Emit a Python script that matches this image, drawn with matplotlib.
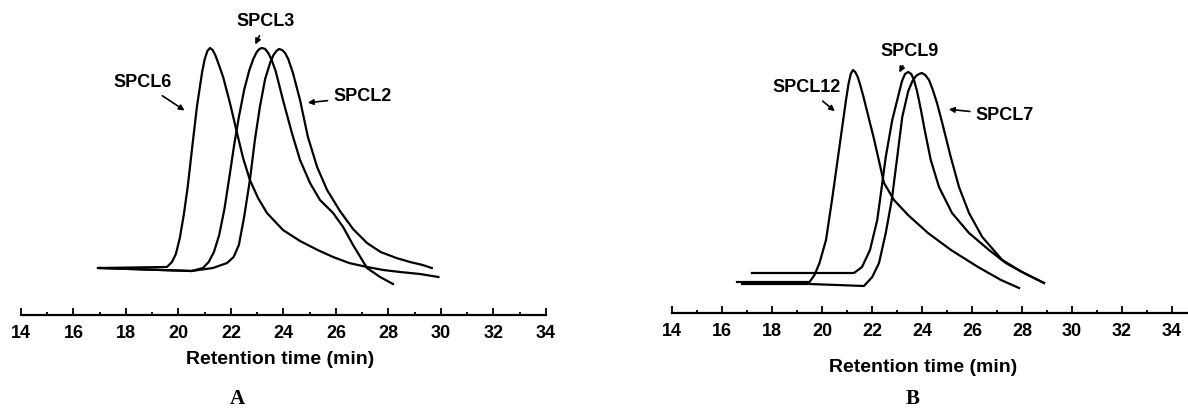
import matplotlib
matplotlib.use("Agg")
import matplotlib.pyplot as plt

# ---- panel A: retention time (min) and detector response (arbitrary units)
spcl6_t = [16.93, 19.56, 19.75, 19.9, 20.05, 20.2, 20.35, 20.51, 20.7, 20.9, 21.0, 21.1, 21.2,
           21.3, 21.4, 21.5, 21.7, 21.96, 22.23, 22.46, 22.72, 23.03, 23.37, 23.98, 24.63,
           25.3, 25.89, 26.5, 27.18, 27.8, 28.44, 29.2, 29.9]
spcl6_h = [47, 48, 53, 61, 77, 100, 128, 165, 208, 243, 256, 264, 267,
           265, 260, 253, 238, 212, 182, 157, 135, 117, 102, 85, 74,
           65, 58, 52, 48, 45, 43, 41, 38]

spcl3_t = [17.0, 20.5, 20.93, 21.15, 21.35, 21.55, 21.75, 21.95, 22.12, 22.3, 22.5, 22.7,
           22.85, 22.98, 23.08, 23.18, 23.3, 23.42, 23.55, 23.7, 23.98, 24.32, 24.63, 25.01,
           25.39, 25.89, 26.27, 26.65, 27.18, 27.68, 28.17]
spcl3_h = [47, 44, 47, 53, 63, 80, 106, 140, 170, 198, 225, 245,
           256, 263, 266, 267, 266, 262, 255, 244, 215, 182, 155, 132,
           115, 102, 88, 70, 47, 38, 31]

spcl2_t = [17.0, 20.5, 21.31, 21.85, 22.1, 22.3, 22.5, 22.72, 22.91, 23.1, 23.3, 23.5, 23.62,
           23.73, 23.83, 23.95, 24.06, 24.18, 24.36, 24.63, 24.93, 25.28, 25.66, 26.15,
           26.65, 27.18, 27.7, 28.3, 28.82, 29.3, 29.65]
spcl2_h = [47, 44, 47, 52, 58, 70, 98, 135, 175, 208, 236, 253, 260,
           264, 266, 265, 262, 256, 242, 215, 178, 148, 125, 104,
           86, 72, 63, 57, 53, 50, 47]

# ---- panel B
spcl12_t = [16.6, 19.5, 19.7, 19.9, 20.16, 20.4, 20.68, 20.96, 21.06, 21.15, 21.24, 21.33,
            21.43, 21.53, 21.65, 21.8, 22.08, 22.48, 22.88, 23.44, 24.24, 25.16, 26.24,
            27.16, 27.88]
spcl12_h = [31, 31, 38, 50, 73, 113, 163, 213, 229, 239, 243, 241,
            236, 228, 217, 202, 174, 130, 113, 98, 80, 63, 46,
            33, 25]

spcl9_t = [17.2, 21.28, 21.6, 21.92, 22.21, 22.39, 22.55, 22.81, 23.08, 23.2, 23.32, 23.45,
           23.57, 23.68, 23.8, 23.95, 24.1, 24.35, 24.68, 25.2, 25.88, 26.68, 27.35, 28.0,
           28.88]
spcl9_h = [40, 40, 46, 63, 93, 126, 156, 193, 220, 232, 239, 241,
           239, 233, 222, 204, 184, 153, 126, 100, 80, 63, 50, 41,
           30]

spcl7_t = [16.8, 19.5, 21.68, 22.01, 22.28, 22.55, 22.79, 23.01, 23.21, 23.45, 23.62, 23.76,
           23.88, 24.0, 24.13, 24.28, 24.42, 24.6, 24.81, 25.15, 25.48, 25.88, 26.41, 27.21,
           28.0, 28.88]
spcl7_h = [29, 29, 27, 36, 50, 80, 113, 156, 196, 222, 232, 237,
           239, 240, 238, 233, 224, 210, 190, 156, 126, 100, 76, 53,
           41, 30]

ticks = [14, 16, 18, 20, 22, 24, 26, 28, 30, 32, 34]
tick_labels = ["14", "16", "18", "20", "22", "24", "26", "28", "30", "32", "34"]

W, H = 1188, 409


def style_axis(ax, xmax):
    ax.set_xlim(14, xmax)
    ax.set_ylim(0, 300)
    for s in ["left", "right", "top"]:
        ax.spines[s].set_visible(False)
    ax.spines["bottom"].set_linewidth(1.6)
    ax.set_yticks([])
    ax.set_xticks(ticks)
    ax.set_xticklabels(tick_labels, fontsize=13, fontweight="bold")
    ax.set_xticks([15, 17, 19, 21, 23, 25, 27, 29, 31, 33], minor=True)
    ax.tick_params(axis="x", which="major", direction="in", length=5, width=1.3, pad=7)
    ax.tick_params(axis="x", which="minor", direction="in", length=2.5, width=1.3)
    ax.patch.set_alpha(0)


def main():
    plt.rcParams["font.family"] = ["Liberation Sans", "DejaVu Sans"]
    fig = plt.figure(figsize=(W / 100, H / 100), dpi=100)

    # panel A
    axA = fig.add_axes([21 / W, (H - 315) / H, 525 / W, 300 / H])
    style_axis(axA, 34)
    for t, h in [(spcl6_t, spcl6_h), (spcl3_t, spcl3_h), (spcl2_t, spcl2_h)]:
        axA.plot(t, h, color="black", lw=1.6, solid_joinstyle="round")
    arrow = dict(arrowstyle="-|>", color="black", lw=1.2, mutation_scale=8)
    axA.annotate("SPCL6", xy=(20.32, 203), xytext=(18.65, 232), fontsize=13,
                 fontweight="bold", ha="center", va="center", arrowprops=arrow)
    axA.annotate("SPCL3", xy=(22.88, 268), xytext=(23.33, 293), fontsize=13,
                 fontweight="bold", ha="center", va="center", arrowprops=arrow)
    axA.annotate("SPCL2", xy=(24.82, 212), xytext=(27.0, 218), fontsize=13,
                 fontweight="bold", ha="center", va="center", arrowprops=arrow)

    # panel B
    axB = fig.add_axes([672 / W, (H - 313) / H, 515 / W, 300 / H])
    style_axis(axB, 34.6)
    for t, h in [(spcl12_t, spcl12_h), (spcl9_t, spcl9_h), (spcl7_t, spcl7_h)]:
        axB.plot(t, h, color="black", lw=1.6, solid_joinstyle="round")
    axB.annotate("SPCL12", xy=(20.6, 200), xytext=(19.4, 225), fontsize=13,
                 fontweight="bold", ha="center", va="center", arrowprops=arrow)
    axB.annotate("SPCL9", xy=(23.04, 238), xytext=(23.52, 261), fontsize=13,
                 fontweight="bold", ha="center", va="center", arrowprops=arrow)
    axB.annotate("SPCL7", xy=(24.96, 204), xytext=(27.3, 198), fontsize=13,
                 fontweight="bold", ha="center", va="center", arrowprops=arrow)

    # axis titles and panel letters
    fig.text(280 / W, 1 - 360 / H, "Retention time (min)", fontsize=14,
             fontweight="bold", ha="center", va="center")
    fig.text(923 / W, 1 - 367 / H, "Retention time (min)", fontsize=14,
             fontweight="bold", ha="center", va="center")
    fig.text(237 / W, 1 - 399 / H, "A", fontsize=15, fontweight="bold",
             family="Liberation Serif", ha="center", va="center")
    fig.text(913 / W, 1 - 399 / H, "B", fontsize=15, fontweight="bold",
             family="Liberation Serif", ha="center", va="center")

    fig.savefig("out.png", dpi=100)


if __name__ == '__main__':
    main()
